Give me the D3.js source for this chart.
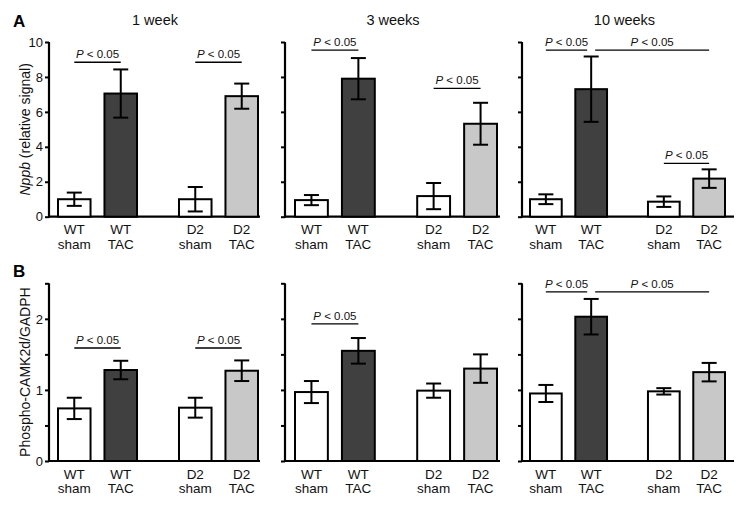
<!DOCTYPE html>
<html>
<head>
<meta charset="utf-8">
<script src="https://cdn.jsdelivr.net/npm/d3@7"></script>
<style>
  body { margin: 0; background: #fff; }
  svg { font-family: 'Liberation Sans', Arial, sans-serif; }
</style>
</head>
<body>
<div id="chart"></div>
<script>
const groups = ['WT sham', 'WT TAC', 'D2 sham', 'D2 TAC'];
const timepoints = ['1 week', '3 weeks', '10 weeks'];

// Panel A: Nppb relative signal (mean, sem)
const nppbMean = [[1.0, 7.05, 1.0, 6.9], [0.95, 7.9, 1.18, 5.32], [1.0, 7.3, 0.86, 2.18]];
const nppbErr = [[0.38, 1.38, 0.7, 0.72], [0.29, 1.18, 0.75, 1.2], [0.28, 1.87, 0.3, 0.53]];
const nppbTicks = [0, 2, 4, 6, 8, 10];
const nppbSig = [
  [[0, 1, 8.84], [2, 3, 8.84]],
  [[0, 1, 9.54], [2, 3, 7.35]],
  [[0, 1, 9.54], [1, 3, 9.54], [2, 3, 3.05]],
];

// Panel B: Phospho-CAMK2d/GADPH (mean, sem)
const camkMean = [[0.74, 1.28, 0.75, 1.27], [0.97, 1.55, 0.99, 1.3], [0.95, 2.03, 0.98, 1.25]];
const camkErr = [[0.15, 0.13, 0.14, 0.145], [0.155, 0.18, 0.1, 0.2], [0.12, 0.25, 0.045, 0.13]];
const camkTicks = [0, 0.5, 1, 1.5, 2, 2.5];
const camkLabels = [0, 1, 2];
const camkSig = [
  [[0, 1, 1.59], [2, 3, 1.59]],
  [[0, 1, 1.93]],
  [[0, 1, 2.38], [1, 3, 2.38]],
];

const fills = ['#ffffff', '#404040', '#ffffff', '#c8c8c8'];

const width = 746;
const height = 507;
const svg = d3.select('#chart').append('svg')
  .attr('width', width)
  .attr('height', height);

// panel geometry along x
const axisX = [49, 285, 522];
const barL = [58, 295, 530];
const barR = [258, 497, 725];
const axisR = [260, 500, 734];

const drawRow = (opts) => {
  const { means, errs, ticks, labels, sig, yTop, yZero, yMax, ylabel, letter, letterY } = opts;
  const y = d3.scaleLinear().domain([0, yMax]).range([yZero, yTop]);

  means.forEach((vals, p) => {
    const g = svg.append('g');
    const outer = d3.scaleBand().domain(['WT', 'D2']).range([barL[p], barR[p]]).paddingInner(0.347);
    const inner = d3.scaleBand().domain(['sham', 'TAC']).range([0, outer.bandwidth()]).paddingInner(0.3);
    const xLeft = (i) => outer(groups[i].split(' ')[0]) + inner(groups[i].split(' ')[1]);
    const xc = (i) => xLeft(i) + inner.bandwidth() / 2;

    // y axis
    const axis = d3.axisLeft(y).tickValues(ticks).tickSize(4).tickSizeOuter(0).tickPadding(2)
      .tickFormat((d) => (p === 0 && labels.includes(d) ? d3.format('d')(d) : ''));
    const ax = g.append('g').attr('transform', `translate(${axisX[p]},0)`).call(axis);
    ax.select('.domain').attr('stroke-width', 2.2).attr('d', `M0,${yZero + 1}V${yTop}`);
    ax.selectAll('.tick line').attr('stroke-width', 2);
    ax.selectAll('.tick text').attr('font-size', 13).attr('fill', '#111');

    // baseline
    g.append('line')
      .attr('x1', axisX[p]).attr('x2', axisR[p])
      .attr('y1', y(0)).attr('y2', y(0))
      .attr('stroke', '#000').attr('stroke-width', 2.2);

    // bars
    g.selectAll('rect.bar').data(vals).enter().append('rect')
      .attr('class', 'bar')
      .attr('x', (d, i) => xLeft(i))
      .attr('width', inner.bandwidth())
      .attr('y', (d) => y(d))
      .attr('height', (d) => y(0) - y(d))
      .attr('fill', (d, i) => fills[i])
      .attr('stroke', '#000')
      .attr('stroke-width', 2);

    // error bars
    const eb = g.selectAll('g.err').data(vals).enter().append('g').attr('class', 'err');
    eb.append('line')
      .attr('x1', (d, i) => xc(i)).attr('x2', (d, i) => xc(i))
      .attr('y1', (d, i) => y(d + errs[p][i])).attr('y2', (d, i) => y(d - errs[p][i]));
    eb.append('line')
      .attr('x1', (d, i) => xc(i) - 7.5).attr('x2', (d, i) => xc(i) + 7.5)
      .attr('y1', (d, i) => y(d + errs[p][i])).attr('y2', (d, i) => y(d + errs[p][i]));
    eb.append('line')
      .attr('x1', (d, i) => xc(i) - 7.5).attr('x2', (d, i) => xc(i) + 7.5)
      .attr('y1', (d, i) => y(d - errs[p][i])).attr('y2', (d, i) => y(d - errs[p][i]));
    eb.selectAll('line').attr('stroke', '#000').attr('stroke-width', 2);

    // significance lines
    sig[p].forEach(([a, b, lvl]) => {
      const shared = (idx, side) => sig[p].some(([a2, b2, l2]) => l2 === lvl && (side === 'start' ? b2 === idx : a2 === idx) && !(a2 === a && b2 === b));
      const x1 = xc(a) + (shared(a, 'start') ? 4 : 0);
      const x2 = xc(b) - (shared(b, 'end') ? 4 : 0);
      g.append('line')
        .attr('x1', x1).attr('x2', x2)
        .attr('y1', y(lvl)).attr('y2', y(lvl))
        .attr('stroke', '#000').attr('stroke-width', 1.3);
      const t = g.append('text')
        .attr('x', (x1 + x2) / 2).attr('y', y(lvl) - 4)
        .attr('text-anchor', 'middle')
        .attr('font-size', 11.5).attr('fill', '#111');
      t.append('tspan').attr('font-style', 'italic').text('P');
      t.append('tspan').text(' < 0.05');
    });

    // category labels
    groups.forEach((name, i) => {
      const [geno, cond] = name.split(' ');
      const t = g.append('text').attr('text-anchor', 'middle').attr('font-size', 13.5).attr('fill', '#111');
      t.append('tspan').attr('x', xc(i)).attr('y', y(0) + 17.5).text(geno);
      t.append('tspan').attr('x', xc(i)).attr('y', y(0) + 32).text(cond);
    });
  });

  // y label
  const yl = svg.append('text')
    .attr('transform', `translate(29.5,${(yTop + yZero) / 2}) rotate(-90)`)
    .attr('text-anchor', 'middle')
    .attr('font-size', 14).attr('fill', '#111');
  ylabel(yl);

  svg.append('text')
    .attr('x', 13).attr('y', letterY)
    .attr('font-size', 17).attr('font-weight', 'bold')
    .text(letter);
};

// time titles
timepoints.forEach((tp, p) => {
  svg.append('text')
    .attr('x', (barL[p] + barR[p]) / 2 - 3)
    .attr('y', 25)
    .attr('text-anchor', 'middle')
    .attr('font-size', 14.5).attr('fill', '#111')
    .text(tp);
});

drawRow({
  means: nppbMean, errs: nppbErr, ticks: nppbTicks, labels: nppbTicks, sig: nppbSig,
  yTop: 42, yZero: 216.7, yMax: 10, letter: 'A', letterY: 27,
  ylabel: (t) => {
    t.append('tspan').attr('font-style', 'italic').text('Nppb');
    t.append('tspan').text(' (relative signal)');
  },
});

drawRow({
  means: camkMean, errs: camkErr, ticks: camkTicks, labels: camkLabels, sig: camkSig,
  yTop: 283.3, yZero: 461, yMax: 2.5, letter: 'B', letterY: 277,
  ylabel: (t) => t.text('Phospho-CAMK2d/GADPH'),
});
</script>
</body>
</html>
